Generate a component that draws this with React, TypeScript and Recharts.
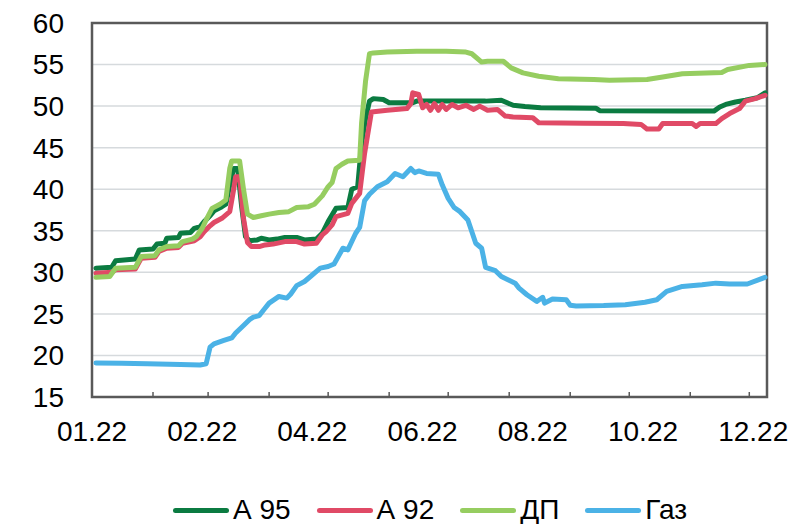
import {
  CartesianGrid,
  Legend,
  Line,
  LineChart,
  ReferenceArea,
  ReferenceLine,
  XAxis,
  YAxis,
} from 'recharts';

// day of year (0 = 1 Jan 2022) -> price
const a95: [number, number][] = [
  [2, 30.5], [10, 30.6], [12, 31.4], [22, 31.6], [24, 32.7], [31, 32.8], [33, 33.4], [37, 33.5],
  [38, 34.1], [44, 34.2], [45, 34.7], [50, 34.8], [52, 35.3], [55, 35.5], [57, 36.1], [60, 36.8],
  [62, 37.4], [66, 37.9], [68, 38.2], [70, 40.5], [72, 42.5], [74, 42.5], [76, 38.0], [78, 34.3],
  [80, 33.8], [84, 33.9], [86, 34.1], [90, 33.9], [94, 34.0], [98, 34.2], [104, 34.2], [108, 33.9],
  [114, 34.0], [117, 34.7], [120, 36.1], [124, 37.7], [130, 37.8], [132, 40.0], [135, 40.3],
  [137, 45.5], [139, 48.5], [141, 50.6], [143, 50.9], [148, 50.8], [151, 50.4], [163, 50.4],
  [165, 50.6], [200, 50.6], [208, 50.7], [214, 50.1], [220, 49.95], [228, 49.8], [256, 49.75],
  [258, 49.45], [300, 49.4], [316, 49.4], [319, 49.9], [322, 50.2], [327, 50.5], [332, 50.7],
  [338, 51.0], [342, 51.6],
];

const a92: [number, number][] = [
  [2, 29.9], [10, 30.0], [12, 30.3], [22, 30.4], [25, 31.7], [32, 31.8], [34, 32.5], [38, 32.9],
  [44, 33.0], [46, 33.5], [52, 33.8], [55, 34.3], [57, 34.9], [60, 35.6], [62, 36.0], [66, 36.5],
  [70, 37.3], [72, 40.0], [73, 41.5], [75, 41.5], [77, 36.5], [79, 33.6], [81, 33.1], [85, 33.1],
  [88, 33.3], [92, 33.4], [98, 33.7], [104, 33.7], [108, 33.4], [114, 33.5], [117, 34.5],
  [119, 34.9], [122, 35.7], [124, 36.7], [130, 37.1], [132, 38.3], [136, 39.5], [138.5, 44.3],
  [142, 49.3], [150, 49.5], [160, 49.7], [162, 50.3], [163, 51.6], [166, 51.4], [168, 49.8],
  [170, 50.2], [172, 49.5], [174, 50.3], [176, 49.5], [178, 50.2], [180, 49.6], [183, 50.2],
  [186, 49.8], [190, 50.1], [194, 49.6], [197, 50.0], [201, 49.5], [206, 49.6], [210, 48.8],
  [214, 48.7], [224, 48.6], [227, 48.0], [250, 47.95], [270, 47.9], [279, 47.8], [282, 47.25],
  [288, 47.25], [290, 47.9], [305, 47.9], [307, 47.55], [309, 47.9], [317, 47.9], [320, 48.5],
  [324, 49.1], [329, 49.7], [332, 50.6], [337, 50.9], [342, 51.3],
];

const diesel: [number, number][] = [
  [2, 29.4], [9, 29.5], [12, 30.5], [22, 30.6], [25, 31.9], [32, 32.0], [34, 32.7], [38, 33.1],
  [44, 33.2], [46, 33.7], [51, 34.0], [53, 34.3], [56, 35.3], [58, 36.3], [61, 37.7], [65, 38.2],
  [68, 38.7], [70, 42.5], [71, 43.4], [75, 43.4], [77, 40.0], [79, 37.0], [82, 36.6], [86, 36.8],
  [90, 37.0], [95, 37.2], [100, 37.3], [104, 37.8], [110, 37.9], [113, 38.2], [117, 39.2],
  [120, 40.3], [122, 40.8], [124, 42.5], [127, 43.0], [130, 43.4], [136, 43.5], [137, 48.0],
  [139, 53.0], [141, 56.3], [143, 56.4], [150, 56.5], [165, 56.6], [180, 56.6], [190, 56.5],
  [193, 56.3], [198, 55.3], [201, 55.4], [209, 55.4], [213, 54.6], [219, 54.0], [227, 53.6],
  [237, 53.3], [255, 53.2], [263, 53.1], [282, 53.2], [290, 53.5], [300, 53.9], [320, 54.05],
  [323, 54.4], [334, 54.9], [342, 55.0],
];

const gas: [number, number][] = [
  [2, 19.1], [15, 19.05], [28, 19.0], [45, 18.9], [55, 18.85], [58, 19.0], [60, 21.0], [62, 21.4],
  [67, 21.8], [71, 22.1], [73, 22.7], [77, 23.6], [80, 24.3], [82, 24.6], [85, 24.8], [88, 25.7],
  [90, 26.3], [95, 27.1], [99, 26.9], [101, 27.4], [104, 28.4], [108, 28.9], [111, 29.5],
  [116, 30.5], [120, 30.7], [123, 31.0], [127.5, 32.9], [130, 32.7], [134, 34.7], [136, 35.4],
  [138.5, 38.6], [141, 39.4], [145, 40.3], [150, 40.9], [154, 41.9], [158, 41.5], [162, 42.5],
  [164, 42.0], [166, 42.2], [170, 41.9], [176, 41.8], [178, 40.5], [181, 38.9], [184, 37.8],
  [187, 37.3], [191, 36.3], [195, 33.5], [198, 32.9], [200, 30.6], [205, 30.2], [208, 29.5],
  [215, 28.7], [217, 28.1], [221, 27.3], [226, 26.5], [229, 27.0], [230, 26.3], [234, 26.8],
  [241, 26.7], [243, 26.05], [246, 25.95], [260, 26.0], [271, 26.1], [281, 26.4], [287, 26.7],
  [292, 27.7], [300, 28.3], [310, 28.5], [317, 28.7], [324, 28.6], [333, 28.6], [342, 29.4],
];

const labelDays = [0, 56, 112, 168, 224, 280, 336];
const labelTexts = ['01.22', '02.22', '04.22', '06.22', '08.22', '10.22', '12.22'];
const monthStarts = [31, 59, 90, 120, 151, 181, 212, 243, 273, 304, 334];
const yTicks = [15, 20, 25, 30, 35, 40, 45, 50, 55, 60];
const lastDay = 343;

const series = [
  { name: 'А 95', color: '#0b7b41', points: a95 },
  { name: 'А 92', color: '#e04a66', points: a92 },
  { name: 'ДП', color: '#96cd60', points: diesel },
  { name: 'Газ', color: '#4bb2e6', points: gas },
];

const FONT = '"Liberation Sans", Arial, sans-serif';
const FRAME = '#595959';

function LegendRow() {
  return (
    <div
      style={{
        width: 794,
        height: 44,
        paddingTop: 16,
        paddingLeft: 173,
        boxSizing: 'border-box',
        display: 'flex',
        alignItems: 'center',
        fontFamily: FONT,
        fontSize: 28,
        lineHeight: '28px',
        color: '#000',
      }}
    >
      {series.map((s) => (
        <div key={s.name} style={{ display: 'flex', alignItems: 'center', marginRight: 26 }}>
          <span
            style={{
              display: 'inline-block',
              width: 56,
              height: 5,
              borderRadius: 3,
              background: s.color,
              marginRight: 4,
            }}
          />
          <span>{s.name}</span>
        </div>
      ))}
    </div>
  );
}

export default function App() {
  return (
    <div style={{ position: 'absolute', left: 0, top: 0, background: '#fff' }}>
      <LineChart width={794} height={524} margin={{ top: 23, right: 27, bottom: 0, left: 0 }}>
        <CartesianGrid vertical={false} stroke="#d6dadd" strokeWidth={1.5} />
        <CartesianGrid horizontal={false} xAxisId="months" stroke="#c4c9cd" strokeWidth={1.5} />
        <XAxis
          xAxisId="months"
          type="number"
          dataKey="day"
          domain={[0, lastDay]}
          ticks={monthStarts}
          hide
        />
        <XAxis
          type="number"
          dataKey="day"
          domain={[0, lastDay]}
          ticks={labelDays}
          interval={0}
          height={83}
          axisLine={false}
          tickLine={false}
          tickSize={0}
          tickMargin={24}
          tickFormatter={(d: number) => labelTexts[labelDays.indexOf(d)] ?? ''}
          tick={{ fill: '#000', fontSize: 28, fontFamily: FONT }}
        />
        <YAxis
          type="number"
          domain={[15, 60]}
          ticks={yTicks}
          interval={0}
          width={92}
          axisLine={false}
          tickLine={false}
          tickSize={0}
          tickMargin={28}
          tick={{ fill: '#000', fontSize: 28, fontFamily: FONT }}
        />
        {monthStarts.map((d) => (
          <ReferenceLine
            key={d}
            segment={[
              { x: d, y: 15 },
              { x: d, y: 15.6 },
            ]}
            stroke={FRAME}
            strokeWidth={1.5}
          />
        ))}
        <ReferenceArea
          x1={0}
          x2={lastDay}
          y1={15}
          y2={60}
          fill="none"
          fillOpacity={0}
          stroke={FRAME}
          strokeWidth={2.5}
        />
        {series.map((s) => (
          <Line
            key={s.name}
            name={s.name}
            data={s.points.map(([day, value]) => ({ day, value }))}
            dataKey="value"
            type="linear"
            stroke={s.color}
            strokeWidth={5}
            strokeLinejoin="round"
            strokeLinecap="round"
            dot={false}
            activeDot={false}
            isAnimationActive={false}
          />
        ))}
        <Legend verticalAlign="bottom" height={44} width={794} wrapperStyle={{ left: 0 }} content={() => <LegendRow />} />
      </LineChart>
    </div>
  );
}
